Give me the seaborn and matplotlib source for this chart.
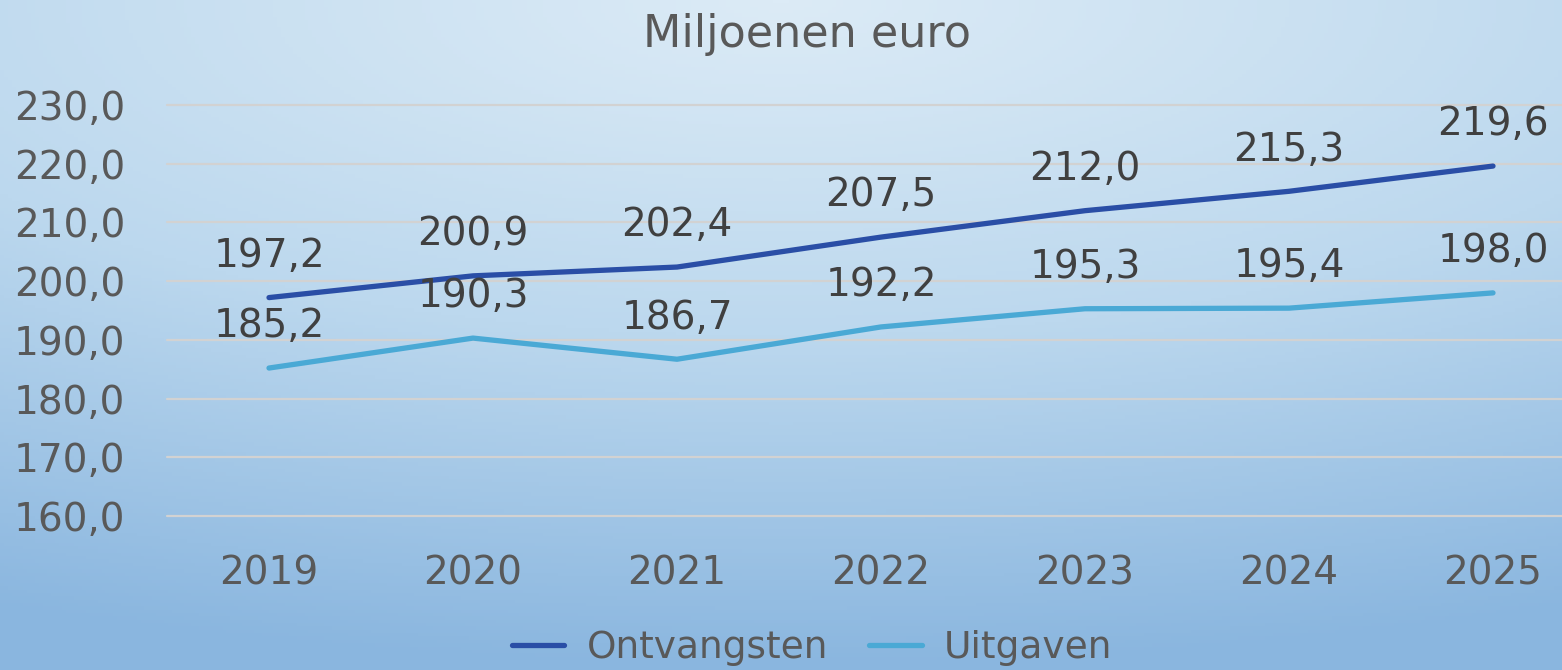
import numpy as np
import pandas as pd
import matplotlib
matplotlib.use("Agg")
import matplotlib.pyplot as plt
import seaborn as sns
from matplotlib.colors import LinearSegmentedColormap
from matplotlib.lines import Line2D

years = ["2019", "2020", "2021", "2022", "2023", "2024", "2025"]
ontvangsten = [197.2, 200.9, 202.4, 207.5, 212.0, 215.3, 219.6]
uitgaven = [185.2, 190.3, 186.7, 192.2, 195.3, 195.4, 198.0]
series_names = ["Ontvangsten", "Uitgaven"]
yticks = [160, 170, 180, 190, 200, 210, 220, 230]
title = "Miljoenen euro"

colors = {"Ontvangsten": "#2a4ea6", "Uitgaven": "#4aa9d5"}
text_color = "#595959"

sns.set_theme(style="white")
plt.rcParams["font.family"] = ["DejaVu Sans"]

df = pd.DataFrame({
    "year": years * 2,
    "value": ontvangsten + uitgaven,
    "series": [series_names[0]] * len(years) + [series_names[1]] * len(years),
})

W, H, DPI = 1562, 670, 100
fig = plt.figure(figsize=(W / DPI, H / DPI), dpi=DPI)

# background gradient
bg = fig.add_axes([0, 0, 1, 1], zorder=-10)
yy, xx = np.mgrid[0:1:200j, 0:1:400j]
dist = np.sqrt(((xx - 0.5) * 0.9) ** 2 + (yy * 1.1) ** 2)
cmap = LinearSegmentedColormap.from_list("bg", ["#dcebf6", "#bcd8ee", "#8ab6df"])
bg.imshow(np.clip(dist / 1.1, 0, 1), cmap=cmap, aspect="auto", extent=[0, 1, 1, 0])
bg.set_axis_off()

left = 167 / W
right = 1595 / W
bottom = 1 - 516 / H
top = 1 - 105 / H
ax = fig.add_axes([left, bottom, right - left, top - bottom])
ax.patch.set_alpha(0)

sns.lineplot(data=df, x="year", y="value", hue="series", palette=colors,
             linewidth=3.8, ax=ax, legend=False, sort=False)
for line in ax.lines:
    line.set_solid_capstyle("round")

ax.set_xlim(-0.5, len(years) - 0.5)
ax.set_ylim(160, 230)
ax.set_yticks(yticks)
ax.set_yticklabels([f"{v:.1f}".replace(".", ",") for v in yticks])
ax.grid(axis="y", color="#d2d2d2", linewidth=1.6)
ax.grid(axis="x", visible=False)
ax.set_axisbelow(True)
for gl in ax.yaxis.get_gridlines():
    gl.set_clip_on(False)
for s in ax.spines.values():
    s.set_visible(False)
ax.tick_params(axis="y", length=0, pad=30, labelsize=28, labelcolor=text_color)
ax.tick_params(axis="x", length=0, pad=28, labelsize=28, labelcolor=text_color)
ax.set_xlabel("")
ax.set_ylabel("")

for vals in (ontvangsten, uitgaven):
    for i, v in enumerate(vals):
        ax.annotate(f"{v:.1f}".replace(".", ","), (i, v), xytext=(0, 30),
                    textcoords="offset points", ha="center", va="center",
                    fontsize=28, color="#404040")

fig.text(807 / W, 1 - 34 / H, title, ha="center", va="center",
         fontsize=32, color=text_color)

handles = [Line2D([0], [0], color=colors[n], linewidth=3.8, solid_capstyle="round") for n in series_names]
fig.legend(handles, series_names, loc="center", bbox_to_anchor=(812 / W, 1 - 648 / H),
           ncol=2, frameon=False, fontsize=27, labelcolor=text_color,
           handlelength=1.4, handletextpad=0.6, columnspacing=1.1)

fig.savefig("out.png", dpi=DPI)
